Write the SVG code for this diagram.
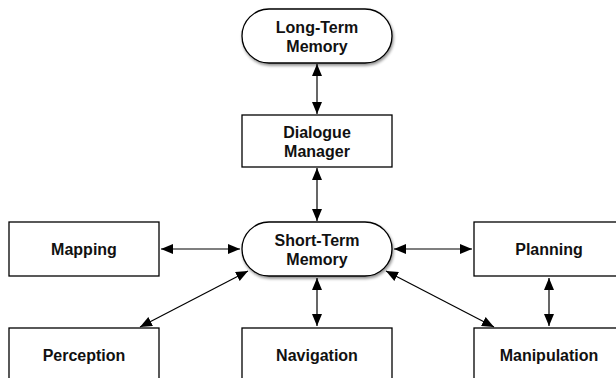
<svg xmlns="http://www.w3.org/2000/svg" width="616" height="378" viewBox="0 0 616 378">
<defs>
<marker id="ah" viewBox="0 0 12 10" refX="12" refY="5" markerWidth="12" markerHeight="10" markerUnits="userSpaceOnUse" orient="auto-start-reverse">
<path d="M0,0 L12,5 L0,10 Z" fill="#000"/>
</marker>
<filter id="sh" x="-10%" y="-20%" width="130%" height="150%">
<feGaussianBlur in="SourceAlpha" stdDeviation="1.5"/>
<feOffset dx="1" dy="2" result="b"/>
<feComponentTransfer><feFuncA type="linear" slope="0.45"/></feComponentTransfer>
<feMerge><feMergeNode/><feMergeNode in="SourceGraphic"/></feMerge>
</filter>
<style>
.box{fill:#fff;stroke:#000;stroke-width:1.3}
.t{font-family:"Liberation Sans",Arial,sans-serif;font-weight:bold;font-size:16px;text-anchor:middle;fill:#111}
.c{stroke:#000;stroke-width:1.2;fill:none;marker-start:url(#ah);marker-end:url(#ah)}
</style>
</defs>
<rect width="616" height="378" fill="#fff"/>
<g id="connectors">
<line class="c" x1="317" y1="64" x2="317" y2="114"/>
<line class="c" x1="317" y1="168" x2="317" y2="221"/>
<line class="c" x1="161" y1="249" x2="240" y2="249"/>
<line class="c" x1="394" y1="249" x2="472" y2="249"/>
<line class="c" x1="317" y1="278" x2="317" y2="326"/>
<line class="c" x1="549" y1="278" x2="549" y2="326"/>
<line class="c" x1="248" y1="271" x2="140" y2="327"/>
<line class="c" x1="386" y1="271" x2="494" y2="327"/>
</g>
<g id="ltm">
<rect class="box" x="242" y="9" width="150" height="54" rx="27" filter="url(#sh)"/>
<text class="t" x="317" y="33">Long-Term</text>
<text class="t" x="317" y="52">Memory</text>
</g>
<g id="dialogue">
<rect class="box" x="242" y="115" width="150" height="52"/>
<text class="t" x="317" y="138">Dialogue</text>
<text class="t" x="317" y="157">Manager</text>
</g>
<g id="stm">
<rect class="box" x="242" y="222" width="150" height="54" rx="27" filter="url(#sh)"/>
<text class="t" x="317" y="246">Short-Term</text>
<text class="t" x="317" y="265">Memory</text>
</g>
<g id="mapping">
<rect class="box" x="9" y="222" width="150" height="54"/>
<text class="t" x="84" y="255">Mapping</text>
</g>
<g id="planning">
<rect class="box" x="474" y="222" width="150" height="54"/>
<text class="t" x="549" y="255">Planning</text>
</g>
<g id="perception">
<rect class="box" x="9" y="328" width="150" height="60"/>
<text class="t" x="84" y="361">Perception</text>
</g>
<g id="navigation">
<rect class="box" x="242" y="328" width="150" height="60"/>
<text class="t" x="317" y="361">Navigation</text>
</g>
<g id="manipulation">
<rect class="box" x="474" y="328" width="150" height="60"/>
<text class="t" x="549" y="361">Manipulation</text>
</g>
</svg>
